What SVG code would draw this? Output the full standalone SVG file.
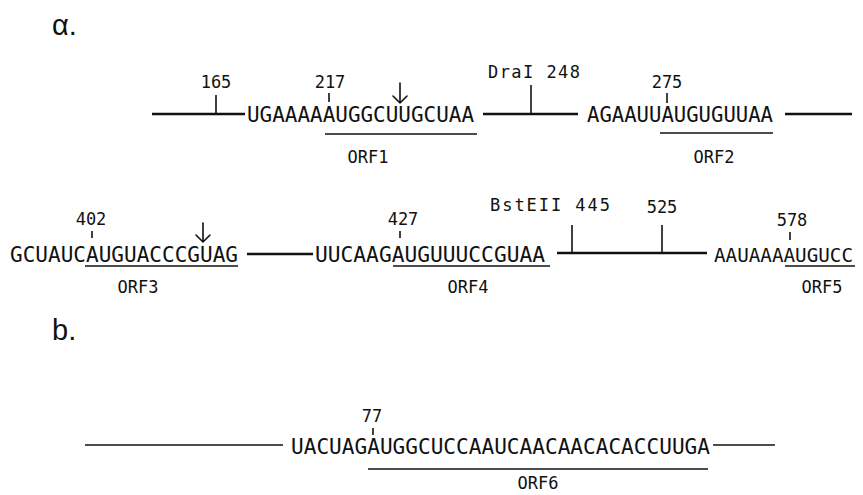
<svg xmlns="http://www.w3.org/2000/svg" width="863" height="495" viewBox="0 0 863 495">
<style>
text{fill:#111;}
.sec{font-family:"Liberation Sans",Arial,sans-serif;font-size:29px;}
.seq{font-family:"DejaVu Sans Mono","Liberation Mono",monospace;font-size:21px;}
.num{font-family:"DejaVu Sans Mono","Liberation Mono",monospace;font-size:17px;text-anchor:middle;}
.lab{font-family:"DejaVu Sans Mono","Liberation Mono",monospace;font-size:17px;}
.orf{font-family:"DejaVu Sans Mono","Liberation Mono",monospace;font-size:17px;text-anchor:middle;}
.thick{stroke:#111;stroke-width:2.6;fill:none;}
.thin{stroke:#111;stroke-width:1.3;fill:none;}
.ul{stroke:#111;stroke-width:1.6;fill:none;}
.tick{stroke:#111;stroke-width:1.6;fill:none;}
.arr{stroke:#111;stroke-width:1.6;fill:none;stroke-linecap:round;stroke-linejoin:round;}
</style>
<rect width="863" height="495" fill="#fff"/>

<g id="label-a"><text class="sec" x="52" y="35">α.</text></g>
<g id="label-b"><text class="sec" x="52" y="340">b.</text></g>

<g id="connectors">
  <line class="thick" x1="152" y1="114" x2="245" y2="114"/>
  <line class="thick" x1="483" y1="114" x2="578" y2="114"/>
  <line class="thick" x1="785" y1="114" x2="852" y2="114"/>
  <line class="thick" x1="247" y1="254" x2="313" y2="254"/>
  <line class="thick" x1="557" y1="253" x2="707" y2="253"/>
  <line class="thin" x1="85" y1="445" x2="283" y2="445"/>
  <line class="thin" x1="713" y1="445" x2="775" y2="445"/>
</g>

<g id="site-165">
  <line class="tick" x1="216" y1="95" x2="216" y2="114"/>
  <text class="num" x="216" y="88">165</text>
</g>
<g id="site-DraI-248">
  <line class="tick" x1="531" y1="85" x2="531" y2="114"/>
  <text class="lab" x="488" y="78" textLength="92" lengthAdjust="spacing">DraI 248</text>
</g>
<g id="site-BstEII-445">
  <line class="tick" x1="572" y1="225" x2="572" y2="253"/>
  <text class="lab" x="490" y="211" textLength="120" lengthAdjust="spacing">BstEII 445</text>
</g>
<g id="site-525">
  <line class="tick" x1="662" y1="225" x2="662" y2="253"/>
  <text class="num" x="662" y="213">525</text>
</g>

<g id="seq-1">
  <text class="seq" x="247" y="122" textLength="227" lengthAdjust="spacingAndGlyphs">UGAAAAAUGGCUUGCUAA</text>
  <line class="tick" x1="329" y1="93" x2="329" y2="102"/>
  <text class="num" x="330" y="88">217</text>
  <path class="arr" d="M400 83 V103 M393 96 L400 103 L407 96"/>
</g>
<g id="orf1">
  <line class="ul" x1="325" y1="134" x2="477" y2="134"/>
  <text class="orf" x="368" y="163">ORF1</text>
</g>

<g id="seq-2">
  <text class="seq" x="587" y="122" textLength="186" lengthAdjust="spacingAndGlyphs">AGAAUUAUGUGUUAA</text>
  <line class="tick" x1="667" y1="93" x2="667" y2="103"/>
  <text class="num" x="667" y="88">275</text>
</g>
<g id="orf2">
  <line class="ul" x1="660" y1="133" x2="773" y2="133"/>
  <text class="orf" x="714" y="163">ORF2</text>
</g>

<g id="seq-3">
  <text class="seq" x="10" y="262" textLength="228" lengthAdjust="spacingAndGlyphs">GCUAUCAUGUACCCGUAG</text>
  <line class="tick" x1="92" y1="231" x2="92" y2="238"/>
  <text class="num" x="91" y="225">402</text>
  <path class="arr" d="M203 223 V242 M196 235 L203 242 L210 235"/>
</g>
<g id="orf3">
  <line class="ul" x1="85" y1="266" x2="238" y2="266"/>
  <text class="orf" x="138" y="293">ORF3</text>
</g>

<g id="seq-4">
  <text class="seq" x="315" y="262" textLength="230" lengthAdjust="spacingAndGlyphs">UUCAAGAUGUUUCCGUAA</text>
  <line class="tick" x1="400" y1="231" x2="400" y2="238"/>
  <text class="num" x="403" y="225">427</text>
</g>
<g id="orf4">
  <line class="ul" x1="393" y1="266" x2="550" y2="266"/>
  <text class="orf" x="468" y="293">ORF4</text>
</g>

<g id="seq-5">
  <text class="seq" x="714" y="262" style="font-size:19.5px" textLength="139" lengthAdjust="spacingAndGlyphs">AAUAAAAUGUCC</text>
  <line class="tick" x1="790" y1="232" x2="790" y2="240"/>
  <text class="num" x="792" y="226">578</text>
</g>
<g id="orf5">
  <line class="ul" x1="785" y1="266" x2="855" y2="266"/>
  <text class="orf" x="822" y="293">ORF5</text>
</g>

<g id="seq-6">
  <text class="seq" x="291" y="454" textLength="419" lengthAdjust="spacingAndGlyphs">UACUAGAUGGCUCCAAUCAACAACACACCUUGA</text>
  <line class="tick" x1="373" y1="428" x2="373" y2="435"/>
  <text class="num" x="372" y="422">77</text>
</g>
<g id="orf6">
  <line class="ul" x1="368" y1="469" x2="708" y2="469"/>
  <text class="orf" x="538" y="489">ORF6</text>
</g>
</svg>
